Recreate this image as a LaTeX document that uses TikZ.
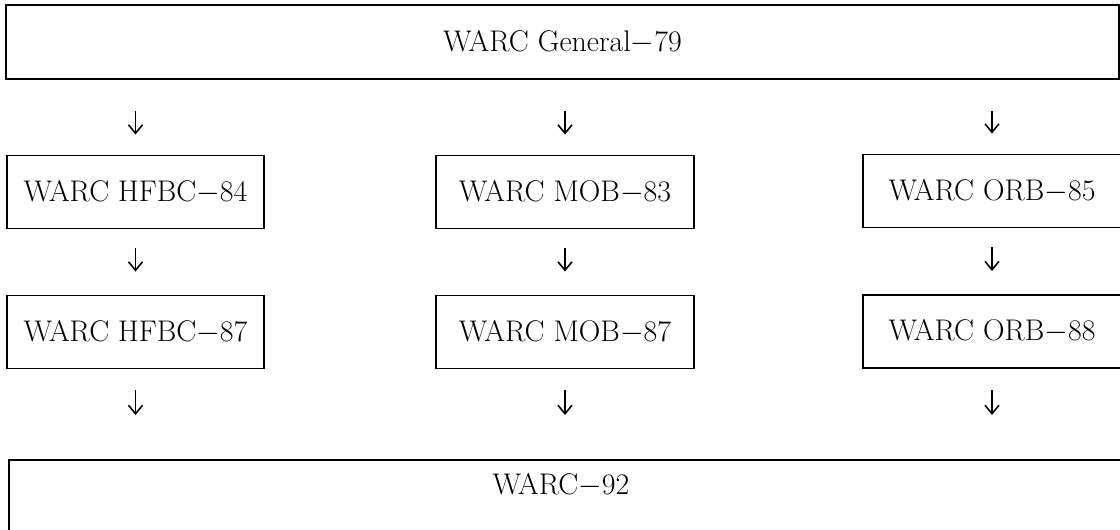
\documentclass[tikz,border=0pt]{standalone}
\usetikzlibrary{arrows.meta}
\begin{document}
\begin{tikzpicture}[x=0.02cm,y=-0.02cm,
  box/.style={draw,line width=1.1pt,minimum width=5.15cm,minimum height=1.46cm,font=\fontsize{17}{20}\selectfont},
  wide/.style={draw,line width=1.1pt,minimum height=1.48cm,font=\fontsize{17}{20}\selectfont},
  arr/.style={line width=0.9pt,-{Straight Barb[length=1.7mm,width=2.8mm]}}]
\useasboundingbox (0,0) rectangle (1120,529);
\node[wide,minimum width=22.26cm] (gen) at (562.5,42) {WARC General$-$79};
\node[box] (hfbc84) at (135.5,192) {WARC HFBC$-$84};
\node[box] (hfbc87) at (135.5,332) {WARC HFBC$-$87};
\node[box] (mob83) at (565,192) {WARC MOB$-$83};
\node[box] (mob87) at (565,332) {WARC MOB$-$87};
\node[box] (orb85) at (992,191) {WARC ORB$-$85};
\node[box] (orb88) at (992,331.5) {WARC ORB$-$88};
\node[wide,anchor=north west,minimum width=22.8cm,minimum height=1.8cm] (w92) at (8,459) {};
\node[font=\fontsize{17}{20}\selectfont] (w92text) at (561,485) {WARC$-$92};
\draw[arr,shorten <=0.62cm,shorten >=0.4cm] (gen.south -| hfbc84) -- (hfbc84.north);
\draw[arr,shorten <=0.62cm,shorten >=0.4cm] (gen.south -| mob83) -- (mob83.north);
\draw[arr,shorten <=0.62cm,shorten >=0.4cm] (gen.south -| orb85) -- (orb85.north);
\draw[arr,shorten <=0.38cm,shorten >=0.46cm] (hfbc84) -- (hfbc87);
\draw[arr,shorten <=0.38cm,shorten >=0.46cm] (mob83) -- (mob87);
\draw[arr,shorten <=0.38cm,shorten >=0.46cm] (orb85) -- (orb88);
\draw[arr,shorten <=0.42cm,shorten >=0.88cm] (hfbc87.south) -- (hfbc87.south |- w92.north);
\draw[arr,shorten <=0.42cm,shorten >=0.88cm] (mob87.south) -- (mob87.south |- w92.north);
\draw[arr,shorten <=0.42cm,shorten >=0.88cm] (orb88.south) -- (orb88.south |- w92.north);
\end{tikzpicture}
\end{document}
